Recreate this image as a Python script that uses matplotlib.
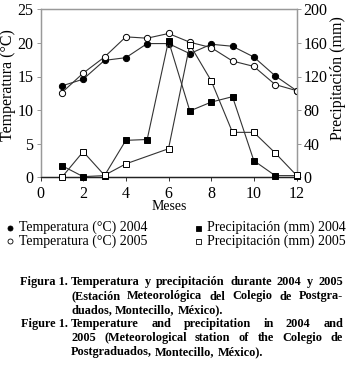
import matplotlib
matplotlib.use("Agg")
import matplotlib.pyplot as plt
import numpy as np

months = [1, 2, 3, 4, 5, 6, 7, 8, 9, 10, 11, 12]
temp_2004 = [13.6, 14.6, 17.4, 17.8, 19.9, 19.9, 18.4, 19.8, 19.5, 17.9, 15.1, 12.9]
temp_2005 = [12.6, 15.5, 17.9, 20.9, 20.7, 21.4, 20.1, 19.3, 17.3, 16.5, 13.8, 12.9]
prec_2004 = [13.9, 0.8, 2.0, 44.0, 45.0, 162.5, 79.0, 89.5, 96.0, 19.8, 2.0, 2.0]
months_p05 = [1, 2, 3, 4, 6, 7, 8, 9, 10, 11, 12]
prec_2005 = [0.0, 30.5, 2.4, 16.0, 34.0, 158.0, 115.0, 53.5, 53.5, 29.0, 2.4]

xticks = [0, 2, 4, 6, 8, 10, 12]
tticks = [0, 5, 10, 15, 20, 25]
pticks = [0, 40, 80, 120, 160, 200]

W, H = 347, 370
plt.rcParams['font.family'] = ['Liberation Serif', 'DejaVu Serif']
TFS = 11.5   # tick labels
FS = 10      # legend, xlabel
YFS = 11.5   # y labels
fig = plt.figure(figsize=(W / 100, H / 100), dpi=100)

def fx(px):
    return px / W

def fy(py):
    return 1 - py / H

L, R, T, B = 40.5, 296.5, 9.3, 177.3
ax = fig.add_axes([fx(L), fy(B), fx(R) - fx(L), fy(T) - fy(B)])
ax2 = ax.twinx()

lc = '#333333'
lw = 0.8
ms = 4.5
ax.plot(months, temp_2004, color=lc, lw=lw, marker='o', ms=ms, mfc='black', mec='black', mew=0.7, zorder=3)
ax.plot(months, temp_2005, color=lc, lw=lw, marker='o', ms=ms, mfc='white', mec='black', mew=0.7, zorder=3)
ax2.plot(months, prec_2004, color=lc, lw=lw, marker='s', ms=ms, mfc='black', mec='black', mew=0.7, zorder=3, clip_on=False)
ax2.plot(months_p05, prec_2005, color=lc, lw=lw, marker='s', ms=ms, mfc='white', mec='black', mew=0.7, zorder=3, clip_on=False)

ax.set_xlim(0, 12)
ax.set_ylim(0, 25)
ax2.set_ylim(0, 200)
ax.set_xticks(xticks)
ax.set_yticks(tticks)
ax2.set_yticks(pticks)

gray = '#999999'
for a in (ax, ax2):
    for s in ('left', 'right', 'top'):
        a.spines[s].set_color(gray)
        a.spines[s].set_linewidth(0.9)
    a.spines['bottom'].set_color('#222222')
    a.spines['bottom'].set_linewidth(0.9)
ax.tick_params(axis='y', direction='out', length=3, width=0.7, color=gray, labelsize=TFS, pad=2)
ax2.tick_params(axis='y', direction='out', length=3, width=0.7, color=gray, labelsize=TFS, pad=2)
ax.tick_params(axis='x', direction='out', length=3, width=0.7, color='#333333', labelsize=TFS, pad=3)

# axis titles placed at measured pixel positions
fig.text(fx(8.5), fy(85), 'Temperatura (°C)', fontsize=YFS, rotation=90, ha='center', va='center')
fig.text(fx(338.5), fy(78), 'Precipitación (mm)', fontsize=YFS, rotation=90, ha='center', va='center')
fig.text(fx((L + R) / 2 + 0.5), fy(207), 'Meses', fontsize=FS, ha='center', va='center')

# legend (manual, in pixel positions)
leg = [
    (10, 227.5, 'o', 'black', 'Temperatura (°C) 2004'),
    (10, 241, 'o', 'white', 'Temperatura (°C) 2005'),
    (198, 227.5, 's', 'black', 'Precipitación (mm) 2004'),
    (198, 241, 's', 'white', 'Precipitación (mm) 2005'),
]
for x, y, m, fc, lab in leg:
    fig.lines.append(matplotlib.lines.Line2D([fx(x)], [fy(y)], transform=fig.transFigure,
                                             marker=m, ms=3.6, mfc=fc, mec='black', mew=0.6, ls='none'))
    fig.text(fx(x + 9), fy(y), lab, fontsize=FS, va='center', ha='left')

# caption with justification
CFS = 8.8
renderer = fig.canvas.get_renderer()

def word_width(s):
    t = fig.text(0, 0, s, fontsize=CFS, fontweight='bold')
    w = t.get_window_extent(renderer).width
    t.remove()
    return w

SPACE = word_width('a a') - word_width('aa')

def justified(words, y, x0, x1, justify=True):
    widths = [word_width(w) for w in words]
    if justify and len(words) > 1:
        gap = (x1 - x0 - sum(widths)) / (len(words) - 1)
    else:
        gap = SPACE
    x = x0
    for w, wd in zip(words, widths):
        fig.text(fx(x), fy(y), w, fontsize=CFS, fontweight='bold', va='center', ha='left')
        x += wd + gap

LBL_R = 68
X0, X1 = 71, 343
cap = [
    ('Figura 1.', 282, 'Temperatura y precipitación durante 2004 y 2005', True),
    (None, 296.5, '(Estación Meteorológica del Colegio de Postgra-', True),
    (None, 310, 'duados, Montecillo, México).', False),
    ('Figure 1.', 324, 'Temperature and precipitation in 2004 and', True),
    (None, 338, '2005 (Meteorological station of the Colegio de', True),
    (None, 352.5, 'Postgraduados, Montecillo, México).', False),
]
for lab, y, line, just in cap:
    if lab:
        fig.text(fx(LBL_R), fy(y), lab, fontsize=CFS, fontweight='bold', va='center', ha='right')
    justified(line.split(' '), y, X0, X1, just)

fig.savefig('out.png', dpi=100)
